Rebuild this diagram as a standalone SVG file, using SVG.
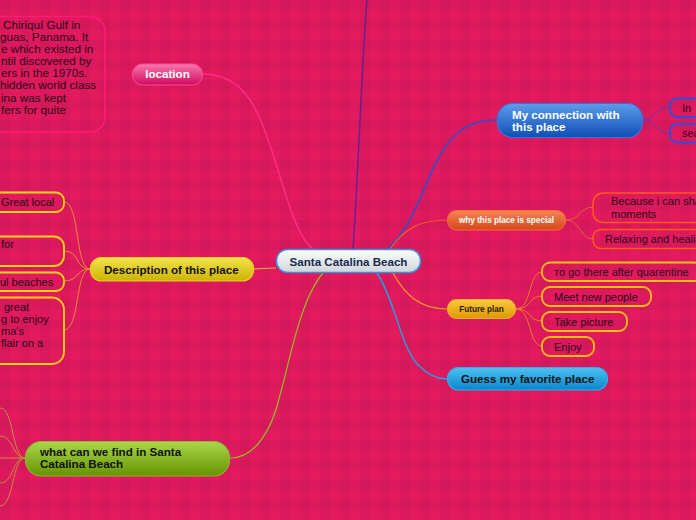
<svg xmlns="http://www.w3.org/2000/svg" width="696" height="520" viewBox="0 0 696 520">
<defs>
<pattern id="bg" width="20" height="20" patternUnits="userSpaceOnUse">
<rect width="20" height="20" fill="#E41A5F"/>
<rect x="0" y="0" width="10" height="20" fill="#000" opacity="0.035"/>
<rect x="0" y="0" width="20" height="10" fill="#000" opacity="0.035"/>
</pattern>
<linearGradient id="gCentral" x1="0" y1="0" x2="0" y2="1"><stop offset="0" stop-color="#ffffff"/><stop offset="1" stop-color="#cdd5da"/></linearGradient>
<linearGradient id="gPink" x1="0" y1="0" x2="0" y2="1"><stop offset="0" stop-color="#f878ac"/><stop offset="1" stop-color="#cf0a5e"/></linearGradient>
<linearGradient id="gBlue" x1="0" y1="0" x2="0" y2="1"><stop offset="0" stop-color="#5c9cea"/><stop offset="1" stop-color="#0f4fb6"/></linearGradient>
<linearGradient id="gRed" x1="0" y1="0" x2="0" y2="1"><stop offset="0" stop-color="#f68656"/><stop offset="1" stop-color="#d4461a"/></linearGradient>
<linearGradient id="gGold" x1="0" y1="0" x2="0" y2="1"><stop offset="0" stop-color="#f9cb40"/><stop offset="1" stop-color="#de9800"/></linearGradient>
<linearGradient id="gCyan" x1="0" y1="0" x2="0" y2="1"><stop offset="0" stop-color="#4cc2f2"/><stop offset="1" stop-color="#0a86cc"/></linearGradient>
<linearGradient id="gYellow" x1="0" y1="0" x2="0" y2="1"><stop offset="0" stop-color="#f2e44c"/><stop offset="1" stop-color="#cdb200"/></linearGradient>
<linearGradient id="gGreen" x1="0" y1="0" x2="0" y2="1"><stop offset="0" stop-color="#aad64c"/><stop offset="1" stop-color="#669400"/></linearGradient>
</defs>
<style>
.t{font-family:"Liberation Sans",Arial,sans-serif;}
.b{font-family:"Liberation Sans",Arial,sans-serif;font-weight:bold;font-size:11.6px;}
.s{font-family:"Liberation Sans",Arial,sans-serif;font-weight:bold;font-size:8.2px;}
.leaf{font-family:"Liberation Sans",Arial,sans-serif;font-size:11px;fill:#2a0818;}
.loc{font-family:"Liberation Sans",Arial,sans-serif;font-size:11.7px;fill:#2a0818;}
.c{fill:none;}
</style>
<rect width="696" height="520" fill="url(#bg)"/>

<g id="connectors" fill="none">
<path d="M203,74 C250,74 262,120 278,170 C290,210 300,240 313,249" stroke="#ff2a86" stroke-width="1.5"/>
<path d="M353,249 C358,180 362,60 367,0" stroke="#6a1f92" stroke-width="1.5"/>
<path d="M387,249 C415,225 425,180 440,155 C455,130 470,120 497,120" stroke="#2a50d4" stroke-width="1.5"/>
<path d="M390,249 C405,228 420,220 447,220" stroke="#f25a22" stroke-width="1.2"/>
<path d="M393,273 C405,295 420,309 447,309" stroke="#f5a020" stroke-width="1.2"/>
<path d="M377,273 C395,300 400,345 418,365 C430,377 440,379 447,379" stroke="#1ea2e2" stroke-width="1.5"/>
<path d="M276,268 L253,269" stroke="#f0a040" stroke-width="1.2"/>
<path d="M323,273 C300,300 290,360 280,395 C272,430 255,458 230,458" stroke="#8cc21e" stroke-width="1.2"/>
<!-- my connection children -->
<path d="M642,120 C655,120 656,107 670,107" stroke="#5a3cb8" stroke-width="1"/>
<path d="M642,120 C655,120 656,133 670,133" stroke="#5a3cb8" stroke-width="1"/>
<!-- why special children -->
<path d="M566,220 C580,220 580,207 593,207" stroke="#e8603a" stroke-width="1"/>
<path d="M566,220 C580,220 580,239 593,239" stroke="#e8603a" stroke-width="1"/>
<!-- future plan children -->
<path d="M516,309 C532,309 528,272 542,272" stroke="#f07a28" stroke-width="1"/>
<path d="M516,309 C532,309 528,296 542,296" stroke="#f07a28" stroke-width="1"/>
<path d="M516,309 C532,309 528,321 542,321" stroke="#f07a28" stroke-width="1"/>
<path d="M516,309 C532,309 528,346 542,346" stroke="#f07a28" stroke-width="1"/>
<!-- description children -->
<path d="M90,269 C75,269 80,202 64,202" stroke="#e88a34" stroke-width="1"/>
<path d="M90,269 C75,269 80,251 64,251" stroke="#e88a34" stroke-width="1"/>
<path d="M90,269 C75,269 80,281 64,281" stroke="#e88a34" stroke-width="1"/>
<path d="M90,269 C75,269 80,330 64,330" stroke="#e88a34" stroke-width="1"/>
<!-- what can we find children -->
<path d="M25,458 C12,458 14,408 0,408" stroke="#c0903a" stroke-width="1"/>
<path d="M25,458 C12,458 14,436 0,436" stroke="#c0903a" stroke-width="1"/>
<path d="M25,458 L0,458" stroke="#c0903a" stroke-width="1"/>
<path d="M25,458 C12,458 14,483 0,483" stroke="#c0903a" stroke-width="1"/>
<path d="M25,458 C12,458 14,506 0,506" stroke="#c0903a" stroke-width="1"/>
</g>

<g id="central">
<rect x="276.5" y="249.5" width="144" height="23" rx="11" fill="url(#gCentral)" stroke="#3a90d8" stroke-width="1.5"/>
<text class="b" x="348.5" y="265.5" text-anchor="middle" fill="#1a2a50">Santa Catalina Beach</text>
</g>

<g id="location">
<rect x="132.5" y="64" width="70" height="21" rx="10" fill="url(#gPink)" stroke="#ff4a92" stroke-width="1"/>
<text class="b" x="167.5" y="78" text-anchor="middle" fill="#ffffff">location</text>
</g>

<g id="location-text">
<rect x="-20" y="16.5" width="125" height="115.5" rx="15" fill="none" stroke="#ff1a78" stroke-width="1.5"/>
<text class="loc" x="3" y="29">Chiriquí Gulf in</text>
<text class="loc" x="0" y="41">guas, Panama. It</text>
<text class="loc" x="1" y="53">e which existed in</text>
<text class="loc" x="1" y="65">ntil discovered by</text>
<text class="loc" x="1" y="77">ers in the 1970s.</text>
<text class="loc" x="0" y="89">hidden world class</text>
<text class="loc" x="1" y="102">ina was kept</text>
<text class="loc" x="1" y="114">fers for quite</text>
</g>

<g id="my-connection">
<rect x="497.5" y="103.5" width="145" height="34" rx="15" fill="url(#gBlue)" stroke="#3a72e2" stroke-width="1.2"/>
<text class="b" x="512" y="119" fill="#ffffff">My connection with</text>
<text class="b" x="512" y="131" fill="#ffffff">this place</text>
</g>
<g id="mc-in">
<rect x="670" y="98.5" width="40" height="18.5" rx="7" fill="none" stroke="#2a50e0" stroke-width="1.8"/>
<text class="leaf" x="682" y="112">In</text>
</g>
<g id="mc-sea">
<rect x="670" y="124" width="40" height="18.5" rx="7" fill="none" stroke="#2a50e0" stroke-width="1.8"/>
<text class="leaf" x="682" y="137">sea</text>
</g>

<g id="why-special">
<rect x="447.5" y="210.5" width="118" height="19.5" rx="9" fill="url(#gRed)" stroke="#ff6a34" stroke-width="1"/>
<text class="s" x="506.5" y="223" text-anchor="middle" fill="#ffffff">why this place is special</text>
</g>
<g id="ws-because">
<rect x="593" y="193" width="120" height="29.5" rx="10" fill="none" stroke="#ff5a1a" stroke-width="1.5"/>
<text class="leaf" x="611" y="205">Because i can sha</text>
<text class="leaf" x="611" y="218">moments</text>
</g>
<g id="ws-relaxing">
<rect x="593" y="229.5" width="120" height="19" rx="8" fill="none" stroke="#ff5a1a" stroke-width="1.5"/>
<text class="leaf" x="605" y="243">Relaxing and heali</text>
</g>

<g id="future-plan">
<rect x="447.5" y="299.5" width="68" height="19" rx="9" fill="url(#gGold)" stroke="#ffb024" stroke-width="1"/>
<text class="s" x="481.5" y="312" text-anchor="middle" fill="#2a1a00">Future plan</text>
</g>
<g id="fp-go">
<rect x="542" y="262.5" width="160" height="18.5" rx="8" fill="none" stroke="#ffc010" stroke-width="1.8"/>
<text class="leaf" x="554" y="276">тo go there after quarentine</text>
</g>
<g id="fp-meet">
<rect x="542" y="287" width="109" height="19" rx="8" fill="none" stroke="#ffc010" stroke-width="1.8"/>
<text class="leaf" x="554" y="301">Meet new people</text>
</g>
<g id="fp-take">
<rect x="542" y="312" width="85" height="19" rx="8" fill="none" stroke="#ffc010" stroke-width="1.8"/>
<text class="leaf" x="554" y="326">Take picture</text>
</g>
<g id="fp-enjoy">
<rect x="542" y="337" width="52" height="19" rx="8" fill="none" stroke="#ffc010" stroke-width="1.8"/>
<text class="leaf" x="554" y="351">Enjoy</text>
</g>

<g id="guess">
<rect x="447.5" y="367.5" width="160" height="22.5" rx="11" fill="url(#gCyan)" stroke="#34aaf0" stroke-width="1.2"/>
<text class="b" x="461" y="383" fill="#111111">Guess my favorite place</text>
</g>

<g id="description">
<rect x="90.5" y="257.5" width="163" height="23.5" rx="11" fill="url(#gYellow)" stroke="#e8d024" stroke-width="1.2"/>
<text class="b" x="104" y="273.5" fill="#111111">Description of this place</text>
</g>
<g id="d-local">
<rect x="-20" y="192.5" width="84" height="19.5" rx="8" fill="none" stroke="#ffd414" stroke-width="1.8"/>
<text class="leaf" x="1" y="206">Great local</text>
</g>
<g id="d-for">
<rect x="-20" y="236.5" width="84" height="29.5" rx="10" fill="none" stroke="#ffd414" stroke-width="1.8"/>
<text class="leaf" x="1" y="248">for</text>
</g>
<g id="d-beaches">
<rect x="-20" y="272.5" width="84" height="18.5" rx="8" fill="none" stroke="#ffd414" stroke-width="1.8"/>
<text class="leaf" x="0" y="286">ul beaches</text>
</g>
<g id="d-great">
<rect x="-20" y="297.5" width="84" height="66.5" rx="12" fill="none" stroke="#ffd414" stroke-width="1.8"/>
<text class="leaf" x="4" y="311">great</text>
<text class="leaf" x="1" y="323">g to enjoy</text>
<text class="leaf" x="1" y="335">ma's</text>
<text class="leaf" x="1" y="347">flair on a</text>
</g>

<g id="what-find">
<rect x="25.5" y="441.5" width="204" height="34.5" rx="16" fill="url(#gGreen)" stroke="#8ab830" stroke-width="1.2"/>
<text class="b" x="40" y="456" fill="#111111">what can we find in Santa</text>
<text class="b" x="40" y="468" fill="#111111">Catalina Beach</text>
</g>
</svg>
